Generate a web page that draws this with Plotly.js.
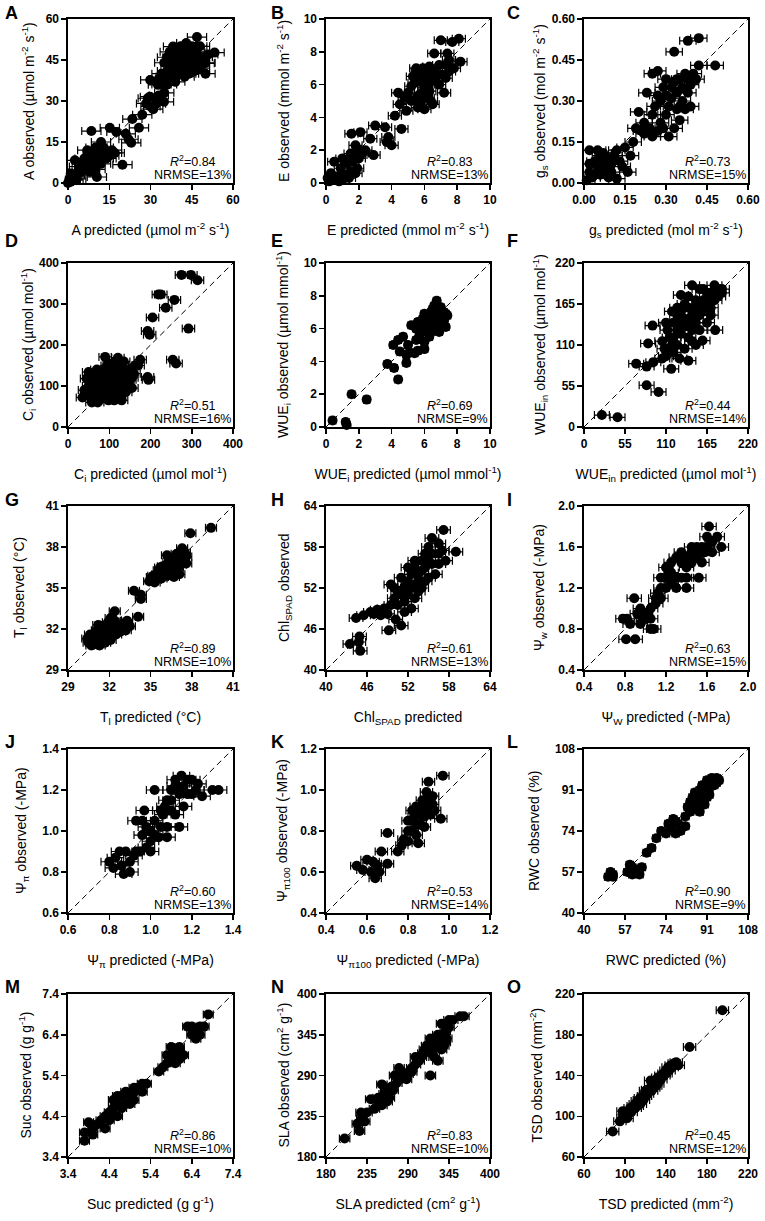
<!DOCTYPE html>
<html><head><meta charset="utf-8">
<script src="https://cdn.plot.ly/plotly-3.0.1.min.js"></script>
<style>html,body{margin:0;padding:0;background:#fff}</style>
</head><body><div id="chart" style="width:765px;height:1221px"></div>
<script>
// ---------- DATA: [predicted, observed] pairs per panel ----------
const panelA = [[0,0],[0.5,1.5],[1,0.5],[1.5,2.5],[2,1],[2.5,3],[3,1.5],[1,3.5],[0.5,0.5],[3.5,4],[2.5,8.3],[5,7],[6,6],[7,12],[8.5,19],[8,8],[9,11],[10,13],[10.5,2.2],[11,10],[12,15],[12,7],[13,9],[14,11],[15.2,20.2],[16,12],[17,11],[17.6,18.7],[19.8,6.7],[21,18],[22,16],[23,14.7],[23.4,23.4],[25.8,20.2],[27,25],[28.4,29.1],[29.8,31.6],[29.9,37.7],[31,27],[32.7,35.9],[33,38],[34.9,29.7],[35,33],[35.5,38.9],[36,41],[37.3,43.2],[38,46],[38.2,49.9],[39,37],[40,44],[41,41],[41,47],[42,48],[42.4,38.9],[44,43],[43,51.2],[45,45],[46,41],[46,48],[47,44],[48,50],[48,46],[49.7,43.8],[50,40],[46.9,53.4],[53.3,47.7],[38,40],[36,36],[42,45],[45,50],
 [34,40],[35,44],[36,46],[37,48],[38,44],[39,42],[40,47],[40,40],[41,50],[42,42],[43,46],[44,48],[44,40],[45,42],[46,44],[47,47],[48,42],[49,46],[50,44],[51,47],[37,38],[39,45],[43,49],[47,50],[34,36],[33,32],[32,29],[30,28],[29,31],[6,9],[7,8],[9,7],[10,9],[11,12],[12,11],[13,13],[14,9],[15,10],[16,11],[4,6],[5,4],[8,4],[10,5]];
const panelB = [[0.1,0.3],[0.3,0.5],[0.2,0.1],[0.5,0.3],[0.8,0.1],[1,0.2],[1.2,0.5],[1.5,0.7],[1.8,0.6],[0.3,0.6],[0.5,1.3],[1,1.5],[1.3,1.2],[1.5,1.8],[1.7,1.6],[2,2],[2.2,1.8],[1.55,3],[2.1,3.1],[2.4,2],[2.9,1.7],[2.7,2.7],[3,3.5],[3.6,3.4],[3.7,2.5],[3.8,2.8],[4,2.3],[4.6,3.3],[4.2,4.1],[4.4,5.5],[4.5,4.8],[4.9,4.4],[5,5.5],[5.2,5.9],[5.4,6.1],[5.5,5.1],[5.6,4.6],[5.8,5],[6,6.5],[5.9,7],[6.2,6],[6.4,6.3],[6.3,5.6],[6.5,4.8],[6.6,6.8],[6.6,7.9],[7,8.7],[7.2,5.5],[7.3,7.2],[7.4,7.9],[7.7,8.6],[8.1,8.8],[8.2,7.4],[7.5,6.8],[6.8,6.6],[6.9,7.2],[5.8,6.3],[6.1,5.3],[5.5,7],[6,4.5],[1.9,0.9],
 [5.3,6.5],[5.6,6.8],[5.9,6.1],[6.1,6.9],[6.3,7.1],[6.5,6.5],[6.7,6.2],[6.9,6.0],[7.1,6.6],[7.3,6.4],[7.5,7.5],[7.8,7.0],[6.2,5.2],[6.4,5.0],[5.7,5.4],[6.0,5.8],[5.2,5.0],[4.8,5.2],[1.6,1.3],[1.8,2.3],[2.0,1.5],[0.7,0.4],[1.4,0.3],[0.9,0.9]];
const panelC = [[0.01,0.01],[0.02,0.04],[0.03,0.02],[0.05,0.06],[0.06,0.03],[0.08,0.05],[0.1,0.04],[0.04,0.08],[0.07,0.08],[0.09,0.09],[0.11,0.1],[0.12,0.12],[0.13,0.08],[0.02,0.12],[0.05,0.12],[0.12,0.016],[0.16,0.04],[0.17,0.1],[0.18,0.15],[0.19,0.2],[0.2,0.26],[0.23,0.33],[0.25,0.4],[0.27,0.41],[0.22,0.18],[0.24,0.2],[0.27,0.19],[0.28,0.22],[0.3,0.25],[0.26,0.28],[0.28,0.3],[0.3,0.32],[0.32,0.35],[0.33,0.37],[0.35,0.38],[0.3,0.38],[0.36,0.3],[0.37,0.27],[0.38,0.33],[0.39,0.36],[0.4,0.4],[0.41,0.38],[0.33,0.48],[0.38,0.52],[0.42,0.53],[0.42,0.43],[0.48,0.43],[0.34,0.27],[0.31,0.17],[0.33,0.2],[0.35,0.28],[0.15,0.13],[0.14,0.06],
 [0.25,0.25],[0.27,0.32],[0.29,0.35],[0.31,0.28],[0.32,0.31],[0.34,0.33],[0.36,0.35],[0.38,0.38],[0.37,0.4],[0.34,0.38],[0.29,0.2],[0.25,0.17],[0.22,0.22],[0.21,0.19],[0.02,0.07],[0.04,0.03],[0.07,0.11],[0.1,0.07],[0.09,0.02],[0.06,0.1],[0.35,0.23],[0.39,0.28]];
const panelD = [[35,72],[40,90],[45,118],[50,134],[55,80],[60,95],[62,70],[65,110],[70,85],[72,60],[75,125],[80,100],[82,75],[85,140],[90,171],[90,115],[95,90],[98,65],[100,130],[105,105],[108,80],[110,150],[115,95],[118,120],[121,169],[125,75],[128,140],[130,100],[135,160],[138,125],[140,85],[145,110],[150,140],[155,95],[160,130],[170,150],[175,164],[193,122],[195,115],[193,234],[198,225],[205,267],[219,323],[225,323],[237,291],[258,310],[254,164],[262,155],[275,371],[298,371],[314,358],[292,240],[115,160],[100,155],[80,130],[120,105],[140,140],[92,100],[130,65],
 [50,100],[55,120],[60,130],[65,90],[68,120],[70,140],[75,95],[78,110],[82,90],[85,115],[88,130],[90,70],[95,150],[100,85],[102,110],[105,140],[108,125],[112,65],[112,100],[115,135],[120,90],[122,150],[125,120],[130,135],[132,115],[135,90],[140,120],[145,130],[150,115],[155,120],[162,150],[45,80],[58,60],[68,75]];
const panelE = [[0.4,0.4],[1.2,0.3],[1.26,0.12],[1.56,2.0],[2.48,1.67],[3.74,3.84],[4.15,3.6],[4.4,2.9],[4.1,5],[4.4,5.3],[4.7,5.5],[4.5,4.6],[4.9,3.9],[4.9,4.4],[5.1,4.55],[5.4,4.5],[5.6,4.65],[6.0,4.75],[5,5],[5.2,6.2],[5.5,6],[5.8,5.8],[6,6.4],[6.2,6.8],[6.4,7],[6.6,7.4],[6.75,7.7],[6.5,6],[6.8,6.5],[7,6.8],[7.2,6.5],[7.3,6.1],[7.2,7],[6.3,5.5],[6,5.2],[6.9,5.8],[7.1,6.2],[5.5,5.3],[6.1,6],[6.6,6.3],[7,7.3],[5.9,6.6],[6.4,5.8],[7.4,6.8],
 [5.6,6.4],[5.8,6.1],[6.0,6.9],[6.2,6.2],[6.3,6.6],[6.5,7.2],[6.7,6.9],[6.9,7.0],[7.1,6.5],[6.5,6.6],[5.7,5.6],[6.2,5.8],[6.7,6.1],[7.3,6.9]];
const panelF = [[24,16],[45,13],[84,56],[100,47],[70,85],[84,81],[93,87],[92,136],[86,112],[117,78],[110,95],[120,100],[125,110],[105,115],[115,120],[130,125],[120,140],[125,150],[130,155],[135,145],[140,160],[145,130],[150,140],[155,150],[160,160],[165,170],[170,180],[175,190],[180,185],[185,180],[175,170],[170,160],[176,130],[140,89],[159,116],[130,177],[145,190],[165,155],[150,110],[135,105],[140,120],[112,130],[118,155],[108,105],[150,170],[160,185],[128,92],
 [120,120],[125,130],[135,135],[140,140],[145,150],[150,160],[155,165],[160,170],[165,180],[170,175],[175,180],[180,175],[125,160],[118,110],[130,140],[145,115],[155,130],[165,140],[170,150],[115,100],[105,92],[110,140],[135,165],[140,175],[155,185],[185,185]];
const panelG = [[30.5,31],[30.8,31.2],[31,30.9],[31.2,31.5],[31.4,31.2],[31.6,31.8],[31.8,31.4],[32,32],[32.2,31.6],[31.5,32.2],[31.9,32.5],[32.3,32.3],[32.6,32],[32.8,31.8],[33,32.4],[33.2,31.9],[30.9,31.6],[31.3,30.8],[31.7,31],[32.4,33.3],[32.1,32.8],[33.5,32.2],[34.1,32.9],[33.8,34.8],[34.3,34.2],[34.3,34.5],[34.9,35.5],[35.1,35.8],[35.3,35.4],[35.5,36],[35.8,35.7],[36,36.2],[36.2,35.9],[36.4,36.5],[36.6,36.2],[36.8,36.8],[37,36.5],[37.2,37.2],[37.4,37],[37.3,37.6],[37.6,37.3],[36.9,37.5],[36.5,37.2],[35.9,36.6],[35.6,36.3],[36.3,36.9],[37.1,36],[36.7,35.8],[37.9,39],[39.4,39.4],
 [30.4,31.3],[30.7,30.8],[31.1,31.9],[31.5,31.5],[32.1,31.2],[32.5,31.6],[32.9,32.2],[33.3,32.6],[31.9,32.2],[32.4,32.6],[31.2,32.3],[30.6,31.6],[35.2,35.9],[35.7,36.5],[36.1,36.6],[36.4,36.0],[36.9,36.2],[37.2,36.7],[37.5,37.6],[37.3,37.9],[36.2,37.4],[35.4,35.6],[36.8,37.2],[37.6,36.8]];
const panelH = [[43.5,43.8],[44.9,44.9],[44.8,44.1],[45,42.8],[44.4,47.6],[45.5,48],[46.5,48.5],[47.5,48.8],[48.5,49],[49.5,49.5],[49.5,52.5],[49.2,45.8],[50.2,47.4],[50,50.5],[51,51],[51.5,52.2],[52,53],[52.5,54],[53,55],[53.5,54],[54,56],[54.5,57],[55,58],[55.5,59.3],[57.2,60.5],[59,57.3],[57.5,56],[56,54],[55,53.5],[54,52],[53,50.5],[52.5,49],[51.5,48.5],[52,51],[53.5,51.5],[54.5,53],[56.5,55.5],[55.5,57],[53,56],[50.5,49.5],[51,46.5],[48,48],[57,57.5],[56.5,58.5],
 [50.5,51.5],[51.5,50],[52.5,52],[53.5,53],[54.5,55],[55.5,55.5],[56.5,57],[52,55],[51,53.5],[50,52],[53,52.5],[55,56],[54,54.5],[49,48.2],[47,48.2]];
const panelI = [[0.81,0.7],[0.9,0.7],[0.82,0.9],[0.78,0.9],[0.89,1.1],[0.95,0.85],[1.0,0.95],[1.05,0.8],[1.05,1.0],[1.1,1.1],[1.1,1.05],[1.15,1.2],[1.2,1.3],[1.2,1.4],[1.15,1.3],[1.25,1.25],[1.3,1.2],[1.3,1.5],[1.35,1.3],[1.4,1.4],[1.45,1.6],[1.5,1.5],[1.55,1.6],[1.6,1.7],[1.58,1.55],[1.52,1.3],[1.65,1.55],[1.7,1.7],[1.74,1.6],[1.62,1.8],[1.4,1.2],[1.0,0.9],[0.95,1.0],[1.08,0.8],[1.45,1.45],[1.35,1.55],[0.92,0.95],[1.25,1.45],[1.55,1.45],
 [1.2,1.2],[1.25,1.35],[1.3,1.3],[1.35,1.45],[1.4,1.5],[1.45,1.55],[1.5,1.6],[1.55,1.55],[1.6,1.6],[1.65,1.65],[1.15,1.1],[1.05,0.9],[0.98,0.9],[0.85,0.85],[1.12,1.15],[1.4,1.3]];
const panelJ = [[0.8,0.85],[0.82,0.82],[0.85,0.9],[0.87,0.79],[0.9,0.85],[0.88,0.9],[0.92,0.88],[0.95,0.9],[0.93,1.05],[0.97,1.1],[1.0,0.95],[1.0,1.0],[1.02,1.05],[1.04,0.97],[1.05,1.1],[1.08,1.15],[1.1,1.2],[1.12,1.25],[1.15,1.27],[1.1,1.1],[1.14,1.02],[1.16,1.12],[1.18,1.18],[1.2,1.25],[1.22,1.2],[1.25,1.17],[1.3,1.2],[1.33,1.2],[1.06,1.08],[0.96,0.98],[1.12,1.22],[1.02,1.2],[0.98,0.92],[1.08,1.02],
 [0.83,0.87],[0.86,0.83],[0.9,0.8],[0.93,0.9],[0.98,1.02],[1.0,0.9],[1.02,0.98],[1.05,1.02],[1.07,1.12],[1.1,1.15],[1.12,1.08],[1.14,1.18],[1.16,1.22],[1.18,1.25],[1.2,1.18],[1.23,1.23],[0.96,1.05],[1.08,0.97]];
const panelK = [[0.55,0.63],[0.6,0.66],[0.62,0.6],[0.64,0.57],[0.65,0.63],[0.67,0.7],[0.7,0.64],[0.7,0.79],[0.75,0.7],[0.77,0.73],[0.8,0.8],[0.8,0.85],[0.82,0.9],[0.84,0.78],[0.85,0.74],[0.86,0.88],[0.88,0.92],[0.9,0.95],[0.9,1.04],[0.92,0.97],[0.96,0.86],[0.97,1.07],[0.88,0.82],[0.83,0.87],[0.78,0.76],[0.93,0.9],[0.86,0.83],[0.91,0.88],
 [0.8,0.75],[0.82,0.8],[0.84,0.83],[0.86,0.9],[0.88,0.87],[0.9,0.9],[0.92,0.93],[0.84,0.92],[0.87,0.95],[0.89,0.99],[0.58,0.61],[0.63,0.65],[0.66,0.6]];
const panelL = [[50,55],[51,57],[52,56],[58,57],[60,59],[60,56],[62,58],[63,56],[66,65],[68,67],[70,71],[72,74],[74,73],[75,77],[77,79],[78,78],[80,76],[80,74],[82,80],[83,84],[84,86],[85,88],[86,90],[87,87],[88,91],[89,93],[90,92],[91,95],[92,94],[93,96],[94,93],[95,96],[96,95],[92,89],[90,85],[88,82],[86,83],
 [52,55],[59,60],[61,57],[64,59],[79,77],[82,76],[84,82],[86,86],[88,88],[90,90],[91,91],[92,92],[93,94],[94,95],[95,94],[89,88],[91,88],[87,84],[76,75],[78,73]];
const panelM = [[3.8,3.8],[3.8,4.0],[3.9,4.25],[4.0,3.95],[4.1,4.2],[4.2,4.3],[4.3,4.1],[4.4,4.5],[4.5,4.6],[4.6,4.4],[4.7,4.6],[4.5,4.8],[4.8,4.7],[4.8,5.0],[4.9,4.9],[5.0,5.0],[5.1,5.1],[5.2,5.2],[5.3,5.2],[5.0,4.8],[4.6,4.9],[5.8,5.7],[5.9,5.9],[6.0,6.0],[6.1,6.1],[6.2,5.9],[5.9,5.8],[6.0,5.9],[6.4,6.6],[6.5,6.5],[6.6,6.4],[6.7,6.6],[6.8,6.9],[6.1,5.8],[5.7,5.6],[6.3,6.6],
 [4.0,4.1],[4.3,4.4],[4.4,4.3],[4.6,4.7],[4.7,4.9],[4.9,4.7],[5.0,5.1],[5.2,5.0],[5.8,5.9],[5.9,6.1],[6.0,5.7],[6.1,6.0],[6.5,6.3],[6.6,6.6],[6.4,6.4],[5.6,5.5]];
const panelN = [[205,205],[222,225],[225,215],[227,240],[232,228],[240,258],[245,245],[250,250],[255,278],[258,265],[262,255],[265,260],[270,270],[275,280],[278,300],[280,285],[285,290],[290,292],[295,295],[300,315],[305,310],[310,320],[315,330],[320,290],[320,340],[325,335],[330,345],[335,360],[340,350],[345,355],[330,310],[340,335],[350,365],[360,370],[365,370],[335,325],
 [250,260],[255,250],[260,270],[268,275],[272,290],[282,295],[288,285],[295,300],[300,305],[308,315],[312,325],[318,330],[322,320],[328,330],[332,340],[338,345],[342,340],[345,365],[338,330],[325,315],[228,232],[235,240]];
const panelO = [[88,85],[95,95],[98,105],[100,100],[105,108],[108,110],[110,112],[112,115],[115,118],[118,120],[120,125],[122,122],[125,128],[128,130],[130,135],[132,138],[135,140],[138,142],[140,145],[142,148],[145,150],[148,152],[150,153],[163,168],[195,204],[103,105],[115,112],[125,135],
 [100,103],[102,98],[106,104],[110,108],[112,110],[114,116],[118,116],[120,120],[122,126],[126,125],[128,128],[130,130],[132,132],[135,136],[138,140],[140,142],[143,145],[146,148],[148,150],[152,150],[98,98]];

const panelLetters = ['A','B','C','D','E','F','G','H','I','J','K','L','M','N','O'];
const r2Values = ['0.84','0.83','0.73','0.51','0.69','0.44','0.89','0.61','0.63','0.60','0.53','0.90','0.86','0.83','0.45'];
const nrmseValues = ['13%','13%','15%','16%','9%','14%','10%','13%','15%','13%','14%','9%','10%','10%','12%'];
const axisRanges = [[0,60],[0,10],[0,0.6],[0,400],[0,10],[0,220],[29,41],[40,64],[0.4,2.0],[0.6,1.4],[0.4,1.2],[40,108],[3.4,7.4],[180,400],[60,220]];
const tickSteps = [15,2,0.15,100,2,55,3,6,0.4,0.2,0.2,17,1,55,40];
const xTitles = [
 'A predicted (µmol m<sup>-2</sup> s<sup>-1</sup>)',
 'E predicted (mmol m<sup>-2</sup> s<sup>-1</sup>)',
 'g<sub>s</sub> predicted (mol m<sup>-2</sup> s<sup>-1</sup>)',
 'C<sub>i</sub> predicted (µmol mol<sup>-1</sup>)',
 'WUE<sub>i</sub> predicted (µmol mmol<sup>-1</sup>)',
 'WUE<sub>in</sub> predicted (µmol mol<sup>-1</sup>)',
 'T<sub>l</sub> predicted (°C)',
 'Chl<sub>SPAD</sub> predicted',
 'Ψ<sub>W</sub> predicted (-MPa)',
 'Ψ<sub>π</sub> predicted (-MPa)',
 'Ψ<sub>π100</sub> predicted (-MPa)',
 'RWC predicted (%)',
 'Suc predicted (g g<sup>-1</sup>)',
 'SLA predicted (cm<sup>2</sup> g<sup>-1</sup>)',
 'TSD predicted (mm<sup>-2</sup>)'];
const yTitles = [
 'A observed (µmol m<sup>-2</sup> s<sup>-1</sup>)',
 'E observed (mmol m<sup>-2</sup> s<sup>-1</sup>)',
 'g<sub>s</sub> observed (mol m<sup>-2</sup> s<sup>-1</sup>)',
 'C<sub>i</sub> observed (µmol mol<sup>-1</sup>)',
 'WUE<sub>i</sub> observed (µmol mmol<sup>-1</sup>)',
 'WUE<sub>in</sub> observed (µmol mol<sup>-1</sup>)',
 'T<sub>l</sub> observed (°C)',
 'Chl<sub>SPAD</sub> observed',
 'Ψ<sub>w</sub> observed (-MPa)',
 'Ψ<sub>π</sub> observed (-MPa)',
 'Ψ<sub>π100</sub> observed (-MPa)',
 'RWC observed (%)',
 'Suc observed (g g<sup>-1</sup>)',
 'SLA observed (cm<sup>2</sup> g<sup>-1</sup>)',
 'TSD observed (mm<sup>-2</sup>)'];
const errorHalfWidths = [3.5,0.4,0.03,15,0.2,10,0.4,1.0,0.07,0.04,0.03,1.5,0.12,7,6];
const tickFormats = ['','','.2f','','','','','','.1f','.1f','.1f','','.1f','',''];

// ---------- LAYOUT ----------
const panelData = [panelA,panelB,panelC,panelD,panelE,panelF,panelG,panelH,panelI,panelJ,panelK,panelL,panelM,panelN,panelO];
const FONT = "'Liberation Sans', Arial, Helvetica, sans-serif";
const W = 765, H = 1221;
const colsPx = [[68,233],[326,490],[584,748]];
const rowsPx = [[19,183],[263,427],[506,670],[749,913],[994,1157]];
const letterX = [3,269,505];
const letterY = [13,241,500,742,987];
// horizontal centre (px) of each rotated y-axis title
const yTitleX = [28,283,540, 28,283,540, 20,285,540, 22,283,534, 25,283,536];

const traces = [];
const layout = {
  width: W, height: H, margin: {l:0,r:0,t:0,b:0}, showlegend: false,
  paper_bgcolor: '#fff', plot_bgcolor: '#fff',
  font: {family: FONT, color: '#000', size: 12},
  annotations: []
};

panelData.forEach((pts, i) => {
  const n = i === 0 ? '' : String(i + 1);
  const col = i % 3, row = Math.floor(i / 3);
  const [x0, x1] = colsPx[col];
  const [y0, y1] = rowsPx[row];
  const rng = axisRanges[i];
  const common = {
    range: rng.slice(), tick0: rng[0], dtick: tickSteps[i], tickformat: tickFormats[i],
    ticks: 'outside', ticklen: 5, tickwidth: 1.5, tickcolor: '#000',
    showline: true, linewidth: 1.6, linecolor: '#000', mirror: true,
    showgrid: false, zeroline: false, fixedrange: true,
    tickfont: {size: 12, family: FONT, color: '#000', weight: 'bold'}
  };
  layout['xaxis' + n] = Object.assign({}, common, {
    domain: [x0 / W, x1 / W], anchor: 'y' + n,
    title: {text: xTitles[i], font: {size: 14, family: FONT, color: '#000'}, standoff: 19}
  });
  layout['yaxis' + n] = Object.assign({}, common, {
    domain: [1 - y1 / H, 1 - y0 / H], anchor: 'x' + n
  });

  // 1:1 dashed line across the axis range
  traces.push({
    x: rng, y: rng, xaxis: 'x' + n, yaxis: 'y' + n, mode: 'lines',
    line: {color: '#000', width: 1, dash: '6px,4px'}, hoverinfo: 'skip'
  });
  traces.push({
    x: pts.map(p => p[0]), y: pts.map(p => p[1]),
    xaxis: 'x' + n, yaxis: 'y' + n, mode: 'markers', cliponaxis: false,
    marker: {size: 10, color: '#000'},
    error_x: {type: 'constant', value: errorHalfWidths[i], color: '#000', thickness: 1.2, width: 4}
  });

  // y-axis title (rotated)
  layout.annotations.push({
    xref: 'paper', yref: 'y' + n + ' domain', x: yTitleX[i] / W, y: 0.5,
    xanchor: 'center', yanchor: 'middle', textangle: -90, showarrow: false,
    text: yTitles[i], font: {size: 14, family: FONT, color: '#000'}
  });
  layout.annotations.push({
    xref: 'x' + n + ' domain', yref: 'y' + n + ' domain', x: 0.91, y: 0.135,
    xanchor: 'right', yanchor: 'middle', showarrow: false,
    text: '<i>R</i><sup>2</sup>=' + r2Values[i], font: {size: 12.5, family: FONT, color: '#000'}
  });
  layout.annotations.push({
    xref: 'x' + n + ' domain', yref: 'y' + n + ' domain', x: 1.0, y: 0.051,
    xanchor: 'right', yanchor: 'middle', showarrow: false,
    text: 'NRMSE=' + nrmseValues[i], font: {size: 12.5, family: FONT, color: '#000'}
  });
  layout.annotations.push({
    xref: 'paper', yref: 'paper', x: letterX[col] / W, y: 1 - letterY[row] / H,
    xanchor: 'left', yanchor: 'middle', showarrow: false,
    text: '<b>' + panelLetters[i] + '</b>', font: {size: 18, family: FONT, color: '#000'}
  });
});

Plotly.newPlot('chart', traces, layout, {staticPlot: true, displayModeBar: false});
</script>
</body></html>
